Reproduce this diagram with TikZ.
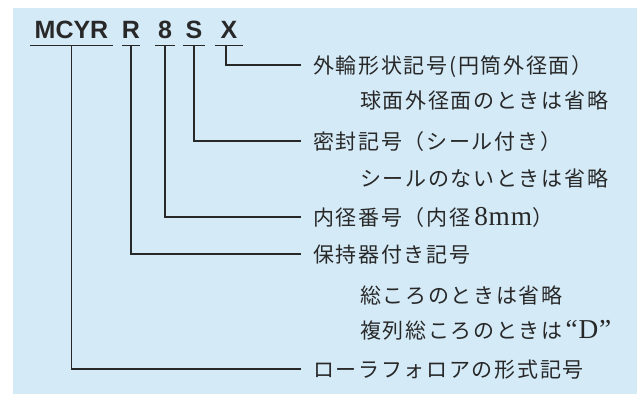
\documentclass[tikz,border=0pt]{standalone}
\usepackage{fontspec}
\newfontfamily\jpfont[LetterSpace=8]{Noto Sans CJK JP}
\newfontfamily\codefont{Liberation Sans}
\newfontfamily\latinfont[Scale=1.3,LetterSpace=3]{Liberation Serif}
\usetikzlibrary{positioning}
\definecolor{bgblue}{RGB}{212,234,247}
\definecolor{leadgray}{RGB}{40,40,40}

\tikzset{
  code/.style={font=\codefont\bfseries\fontsize{25bp}{25bp}\selectfont,
    anchor=base, inner xsep=0pt, inner ysep=0pt, text depth=7bp, text=leadgray},
  desc/.style={font=\jpfont\fontsize{21bp}{21bp}\selectfont, anchor=west,
    inner xsep=12bp, inner ysep=0pt, text height=18.5bp, text depth=2.5bp,
    text=leadgray},
  note/.style={desc, inner xsep=0pt},
  lead/.style={line width=1.3bp, draw=leadgray}
}

\begin{document}
\begin{tikzpicture}[x=1bp,y=-1bp]
\useasboundingbox (0,0) rectangle (637,394);
\fill[bgblue] (13,8) rectangle (637,394);

% code letters
\node[code, minimum width=83bp] (cType) at (71.5,38) {MCYR};
\node[code, minimum width=18bp] (cCage) at (131,38) {R};
\node[code, minimum width=20bp] (cBore) at (165,38) {8};
\node[code, minimum width=22bp] (cSeal) at (194,38) {S};
\node[code, minimum width=28bp] (cOuter) at (229,38) {X};

% underlines
\foreach \c in {cType,cCage,cBore,cSeal,cOuter}
  \draw[lead] (\c.south west) -- (\c.south east);

% descriptions
\node[desc] (lOuter) at (301,65) {外輪形状記号(円筒外径面）};
\node[note] (nOuter) at (360,100) {球面外径面のときは省略};
\node[desc] (lSeal) at (301,141) {密封記号（シール付き）};
\node[note] (nSeal) at (360,178) {シールのないときは省略};
\node[desc] (lBore) at (301,217) {内径番号（内径\hspace{4bp}{\latinfont 8mm}）};
\node[desc] (lCage) at (301,254) {保持器付き記号};
\node[note] (nCage) at (360,295) {総ころのときは省略};
\node[note] (nDouble) at (360,330) {複列総ころのときは\hspace{3bp}{\latinfont “D”}};
\node[desc] (lType) at (301,369) {ローラフォロアの形式記号};

% leaders
\draw[lead] ([xshift=-3bp]cOuter.south) |- (lOuter.west);
\draw[lead] (cSeal.south) |- (lSeal.west);
\draw[lead] (cBore.south) |- (lBore.west);
\draw[lead] (cCage.south) |- (lCage.west);
\draw[lead] (cType.south) |- (lType.west);
\end{tikzpicture}
\end{document}
